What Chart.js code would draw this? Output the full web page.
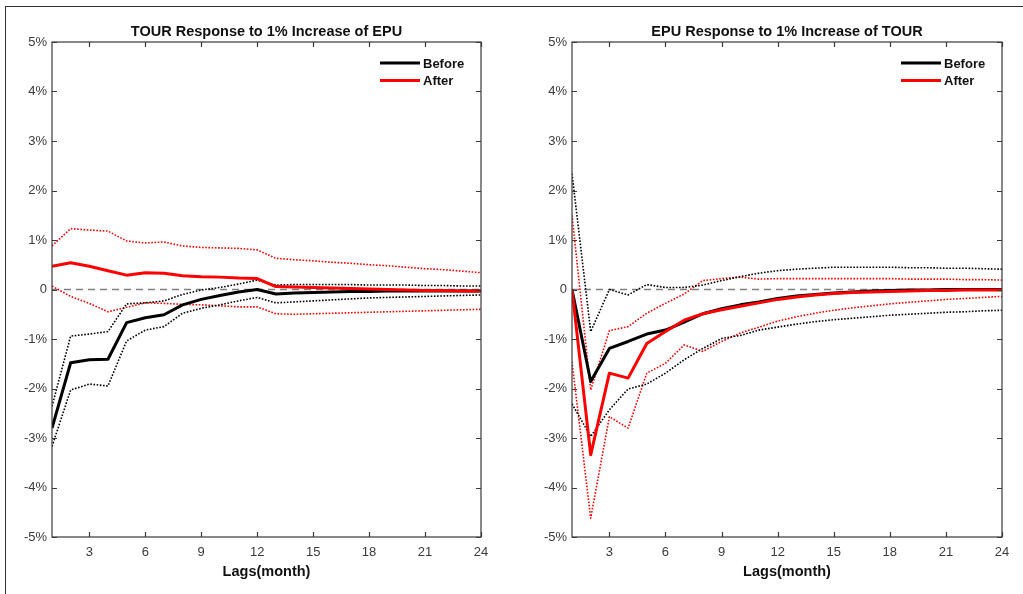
<!DOCTYPE html>
<html>
<head>
<meta charset="utf-8">
<script src="https://cdn.jsdelivr.net/npm/chart.js@4"></script>
<style>
  html, body { margin: 0; padding: 0; background: #fff; }
  #wrap { position: relative; width: 1023px; height: 594px; overflow: hidden; }
  #frame { position: absolute; left: 5px; top: 6px; width: 1040px; height: 620px;
           border-left: 1px solid #333; border-top: 1px solid #333; }
  canvas { position: absolute; top: 0; }
</style>
</head>
<body>
<div id="wrap">
  <div id="frame"></div>
  <canvas id="left" width="520" height="594" style="left:0"></canvas>
  <canvas id="right" width="503" height="594" style="left:520px"></canvas>
</div>
<script>
// lags (months) and tick values
const lags = [1, 2, 3, 4, 5, 6, 7, 8, 9, 10, 11, 12, 13, 14, 15, 16, 17, 18, 19, 20, 21, 22, 23, 24];
const xTicks = [3, 6, 9, 12, 15, 18, 21, 24];
const yTicks = [-5, -4, -3, -2, -1, 0, 1, 2, 3, 4, 5];
const titles = ["TOUR Response to 1% Increase of EPU", "EPU Response to 1% Increase of TOUR"];
const xTitle = "Lags(month)";

// left panel: TOUR response to EPU (%)
const beforeL   = [-2.80, -1.48, -1.42, -1.41, -0.67, -0.57, -0.51, -0.31, -0.20, -0.12, -0.05, 0.00, -0.09, -0.07, -0.06, -0.05, -0.04, -0.04, -0.03, -0.03, -0.03, -0.03, -0.03, -0.03];
const beforeUpL = [-2.36, -0.94, -0.90, -0.85, -0.29, -0.27, -0.23, -0.10, -0.01, 0.04, 0.11, 0.19, 0.09, 0.10, 0.10, 0.10, 0.10, 0.09, 0.09, 0.09, 0.08, 0.08, 0.07, 0.07];
const beforeLoL = [-3.17, -2.03, -1.91, -1.95, -1.04, -0.82, -0.75, -0.48, -0.38, -0.31, -0.23, -0.16, -0.27, -0.25, -0.23, -0.21, -0.19, -0.17, -0.16, -0.15, -0.14, -0.13, -0.12, -0.11];
const afterL    = [0.47, 0.54, 0.47, 0.38, 0.29, 0.34, 0.33, 0.28, 0.26, 0.25, 0.23, 0.22, 0.06, 0.05, 0.04, 0.03, 0.02, 0.01, 0.00, -0.01, -0.02, -0.02, -0.03, -0.03];
const afterUpL  = [0.88, 1.23, 1.20, 1.18, 0.98, 0.94, 0.96, 0.88, 0.85, 0.84, 0.83, 0.80, 0.63, 0.60, 0.58, 0.55, 0.53, 0.50, 0.48, 0.45, 0.42, 0.40, 0.37, 0.34];
const afterLoL  = [0.07, -0.14, -0.28, -0.45, -0.36, -0.27, -0.28, -0.30, -0.31, -0.33, -0.35, -0.35, -0.49, -0.50, -0.49, -0.48, -0.47, -0.46, -0.45, -0.44, -0.43, -0.42, -0.41, -0.40];

// right panel: EPU response to TOUR (%)
const beforeR   = [0.00, -1.86, -1.19, -1.05, -0.90, -0.82, -0.66, -0.49, -0.39, -0.31, -0.25, -0.18, -0.13, -0.10, -0.07, -0.05, -0.03, -0.02, -0.01, -0.01, 0.00, 0.00, 0.00, 0.00];
const beforeUpR = [2.34, -0.85, 0.00, -0.11, 0.10, 0.04, 0.04, 0.09, 0.18, 0.26, 0.33, 0.38, 0.41, 0.43, 0.45, 0.45, 0.45, 0.45, 0.44, 0.44, 0.43, 0.43, 0.42, 0.41];
const beforeLoR = [-2.31, -2.97, -2.43, -2.01, -1.91, -1.69, -1.42, -1.19, -0.99, -0.93, -0.82, -0.76, -0.70, -0.65, -0.61, -0.58, -0.55, -0.52, -0.50, -0.48, -0.46, -0.45, -0.43, -0.42];
const afterR    = [0.00, -3.34, -1.69, -1.79, -1.09, -0.85, -0.62, -0.49, -0.41, -0.34, -0.27, -0.20, -0.15, -0.11, -0.08, -0.06, -0.05, -0.04, -0.03, -0.02, -0.02, -0.01, -0.01, -0.01];
const afterUpR  = [1.50, -2.03, -0.83, -0.75, -0.48, -0.28, -0.09, 0.18, 0.22, 0.25, 0.21, 0.22, 0.22, 0.22, 0.22, 0.22, 0.22, 0.22, 0.21, 0.21, 0.21, 0.20, 0.20, 0.19];
const afterLoR  = [-1.46, -4.62, -2.57, -2.80, -1.69, -1.49, -1.12, -1.25, -1.05, -0.88, -0.76, -0.64, -0.55, -0.48, -0.42, -0.37, -0.33, -0.29, -0.26, -0.23, -0.20, -0.18, -0.16, -0.14];

const FONT = "'Liberation Sans', Arial, sans-serif";
const AXIS = "#3a3a3a";

// MATLAB style box, inward ticks, dashed zero line, title and legend
const matlabAxes = {
  id: "matlabAxes",
  beforeDatasetsDraw(chart) {
    const { ctx, chartArea: a, scales } = chart;
    const y0 = scales.y.getPixelForValue(0);
    ctx.save();
    ctx.strokeStyle = "#808080";
    ctx.lineWidth = 1.5;
    ctx.setLineDash([7, 5]);
    ctx.beginPath();
    ctx.moveTo(a.left, y0);
    ctx.lineTo(a.right, y0);
    ctx.stroke();
    ctx.restore();
  },
  afterDatasetsDraw(chart, args, opts) {
    const { ctx, chartArea: a, scales } = chart;
    ctx.save();
    ctx.strokeStyle = AXIS;
    ctx.lineWidth = 1.2;
    ctx.strokeRect(a.left, a.top, a.right - a.left, a.bottom - a.top);
    ctx.beginPath();
    xTicks.forEach(v => {
      const x = Math.round(scales.x.getPixelForValue(v)) + 0.5;
      ctx.moveTo(x, a.bottom); ctx.lineTo(x, a.bottom - 5);
      ctx.moveTo(x, a.top); ctx.lineTo(x, a.top + 5);
    });
    yTicks.forEach(v => {
      const y = Math.round(scales.y.getPixelForValue(v)) + 0.5;
      ctx.moveTo(a.left, y); ctx.lineTo(a.left + 5, y);
      ctx.moveTo(a.right, y); ctx.lineTo(a.right - 5, y);
    });
    ctx.stroke();

    // title
    ctx.fillStyle = "#111";
    ctx.font = "bold 14.5px " + FONT;
    ctx.textAlign = "center";
    ctx.textBaseline = "middle";
    ctx.fillText(opts.title, (a.left + a.right) / 2, 32);

    // legend
    ctx.font = "bold 13px " + FONT;
    ctx.textAlign = "left";
    ["Before", "After"].forEach((name, i) => {
      const ds = chart.data.datasets.find(d => d.label === name);
      const y = a.top + 21 + i * 17.5;
      ctx.strokeStyle = ds.borderColor;
      ctx.lineWidth = 3;
      ctx.beginPath();
      ctx.moveTo(a.right - 101, y);
      ctx.lineTo(a.right - 61, y);
      ctx.stroke();
      ctx.fillStyle = "#111";
      ctx.fillText(name, a.right - 58, y + 1);
    });
    ctx.restore();
  }
};

function makePanel(id, title, s, padRight) {
  const pts = vals => vals.map((v, i) => ({ x: lags[i], y: v }));
  const dotted = { borderWidth: 1.6, borderDash: [1.6, 1.6], order: 2 };
  new Chart(document.getElementById(id), {
    type: "line",
    data: {
      datasets: [
        { label: "Before", data: pts(s.before), borderColor: "#000000", borderWidth: 3, order: 1 },
        { label: "After", data: pts(s.after), borderColor: "#ff0000", borderWidth: 3, order: 0 },
        Object.assign({ label: "", data: pts(s.beforeUp), borderColor: "#000000" }, dotted),
        Object.assign({ label: "", data: pts(s.beforeLo), borderColor: "#000000" }, dotted),
        Object.assign({ label: "", data: pts(s.afterUp), borderColor: "#ff0000" }, dotted),
        Object.assign({ label: "", data: pts(s.afterLo), borderColor: "#ff0000" }, dotted)
      ]
    },
    options: {
      responsive: false,
      animation: false,
      devicePixelRatio: 1,
      layout: { padding: { top: 42, right: padRight, left: 0, bottom: 0 } },
      elements: {
        point: { radius: 0 },
        line: { tension: 0, fill: false, borderJoinStyle: "round" }
      },
      scales: {
        x: {
          type: "linear", min: 1, max: 24,
          afterBuildTicks: sc => { sc.ticks = xTicks.map(v => ({ value: v })); },
          afterFit: sc => { sc.height = 57; },
          grid: { display: false, drawTicks: false },
          border: { display: false },
          ticks: { padding: 8, color: AXIS, font: { family: FONT, size: 13 }, maxRotation: 0, autoSkip: false },
          title: { display: true, text: xTitle, color: "#111",
                   font: { family: FONT, size: 14.5, weight: "bold" }, padding: { top: 0, bottom: 13 } }
        },
        y: {
          min: -5, max: 5,
          afterBuildTicks: sc => { sc.ticks = yTicks.map(v => ({ value: v })); },
          afterFit: sc => { sc.width = 52; },
          grid: { display: false, drawTicks: false },
          border: { display: false },
          ticks: { padding: 5, color: AXIS, font: { family: FONT, size: 13 },
                   callback: v => (v === 0 ? "0" : v + "%") }
        }
      },
      plugins: {
        legend: { display: false },
        tooltip: { enabled: false },
        matlabAxes: { title: title }
      }
    },
    plugins: [matlabAxes]
  });
}

makePanel("left", titles[0], {
  before: beforeL, beforeUp: beforeUpL, beforeLo: beforeLoL,
  after: afterL, afterUp: afterUpL, afterLo: afterLoL
}, 39);

makePanel("right", titles[1], {
  before: beforeR, beforeUp: beforeUpR, beforeLo: beforeLoR,
  after: afterR, afterUp: afterUpR, afterLo: afterLoR
}, 21);
</script>
</body>
</html>
